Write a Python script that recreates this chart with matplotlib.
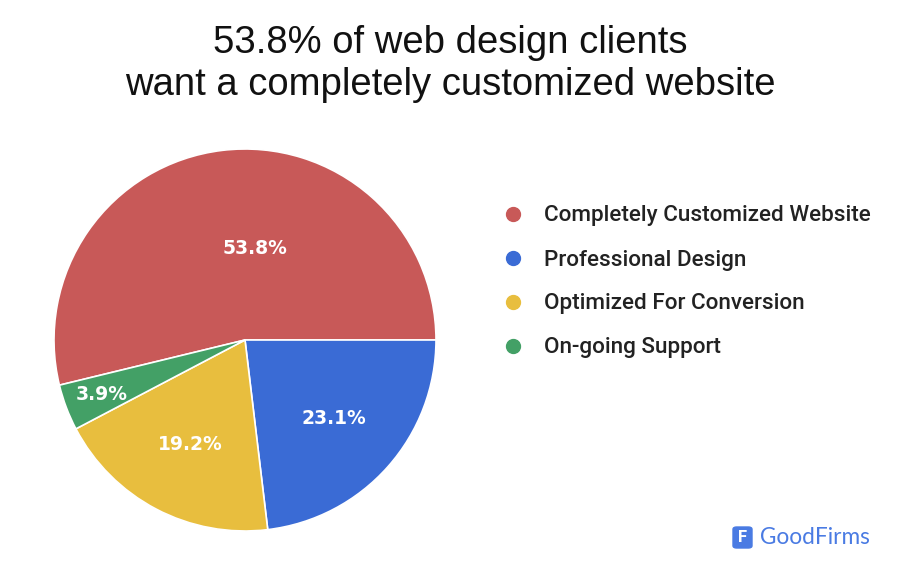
import matplotlib
matplotlib.use("Agg")
import matplotlib.pyplot as plt
from matplotlib.lines import Line2D
from matplotlib.patches import FancyBboxPatch
import numpy as np

# data
categories = ["Completely Customized Website", "Professional Design",
              "Optimized For Conversion", "On-going Support"]
shares = [53.8, 23.1, 19.2, 3.9]
colors = ["#c85958", "#3a6bd5", "#e8be3e", "#43a066"]
title = "53.8% of web design clients\nwant a completely customized website"

W, H = 900, 575
fig = plt.figure(figsize=(W / 100, H / 100), dpi=100)
fig.patch.set_facecolor("white")

# title
fig.text(0.5, 1 - 64 / H, title, ha="center", va="center", fontsize=27.5,
         family="Liberation Sans", color="#111111", linespacing=1.2)

# pie axes: center (245, 340) px, radius 191 px
cx, cy, r = 245, 340, 191
ax = fig.add_axes([(cx - r) / W, (H - cy - r) / H, 2 * r / W, 2 * r / H])
start = 360 * shares[0] / 100
wedges, _ = ax.pie(shares, colors=colors, startangle=start, counterclock=False,
                   radius=1, wedgeprops=dict(edgecolor="white", linewidth=1.2))
ax.set_xlim(-1, 1)
ax.set_ylim(-1, 1)
ax.set_aspect("equal")
ax.axis("off")

# percent labels inside slices (google-style placement)
label_dist = [0.48, 0.62, 0.62, 0.80]
label_shift = [-13, 0, 0, 0]   # degrees
for w, s, d, sh in zip(wedges, shares, label_dist, label_shift):
    ang = np.deg2rad((w.theta1 + w.theta2) / 2 + sh)
    ax.text(d * np.cos(ang), d * np.sin(ang), f"{s}%", ha="center", va="center",
            color="white", fontsize=13.5, fontweight="bold", family="DejaVu Sans")

# legend
for i, (name, c) in enumerate(zip(categories, colors)):
    y = 1 - (214 + 44 * i) / H
    fig.add_artist(Line2D([513 / W], [y], marker="o", markersize=10,
                          color=c, linestyle="none", transform=fig.transFigure))
    fig.text(544 / W, y - 2 / H, name, ha="left", va="center", fontsize=16.2,
             family="Roboto", fontweight="medium", color="#222222")

# GoodFirms mark
logo_y = 1 - 538 / H
fig.add_artist(FancyBboxPatch((733 / W, logo_y - 10 / H), 19 / W, 21 / H,
                              boxstyle="round,pad=0,rounding_size=0.004",
                              transform=fig.transFigure, color="#4a7be3"))
fig.text(742.5 / W, logo_y, "F", ha="center", va="center", color="white",
         fontsize=12, fontweight="bold", family="Roboto")
fig.text(760 / W, logo_y, "GoodFirms", ha="left", va="center", color="#4a7be3",
         fontsize=16.3, family="Lato")

fig.savefig("out.png", dpi=100, facecolor="white")
